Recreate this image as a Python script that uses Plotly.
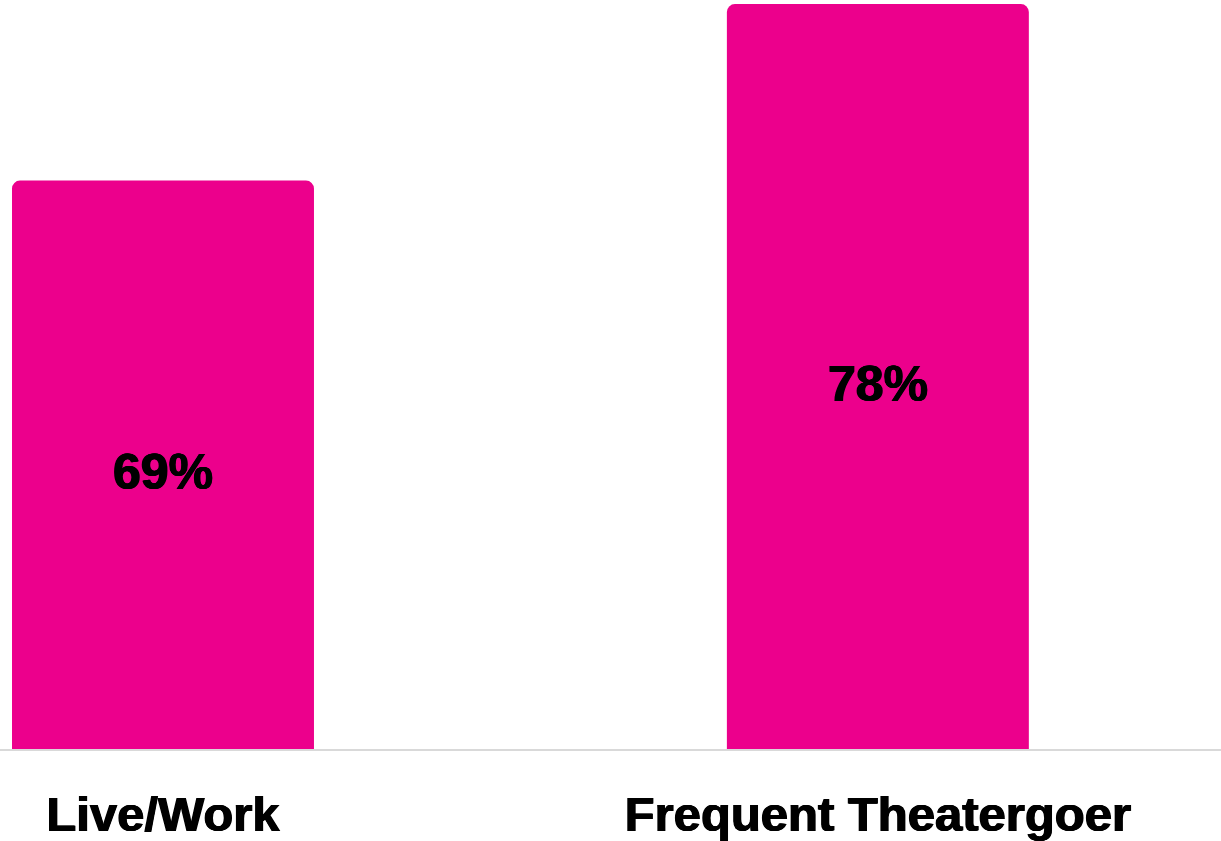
import plotly.graph_objects as go

categories = ["Live/Work", "Frequent Theatergoer"]
values = [69, 78]
value_labels = ["69%", "78%"]
axis_min = 40
axis_max = 78.21

BAR_COLOR = "#EC008C"
FONT = "Liberation Sans, Arial, sans-serif"
HEAVY = "0.7px 0 0 black, -0.7px 0 0 black, 0 0.4px 0 black"

fig = go.Figure(
    go.Bar(
        x=categories,
        y=values,
        width=0.4224,
        marker=dict(color=BAR_COLOR, line=dict(width=0)),
        hoverinfo="skip",
    )
)

# value labels centred in the visible part of each bar
for cat, v, lab in zip(categories, values, value_labels):
    fig.add_annotation(
        x=cat,
        y=(axis_min + v) / 2,
        xref="x",
        yref="y",
        text=lab,
        showarrow=False,
        yshift=-7,
        font=dict(family=FONT, size=50, color="black", weight="bold", shadow=HEAVY),
    )

fig.update_layout(
    width=1221,
    height=841,
    margin=dict(l=0, r=0, t=0, b=92, autoexpand=False),
    paper_bgcolor="white",
    plot_bgcolor="white",
    showlegend=False,
    barcornerradius=8,
    xaxis=dict(
        range=[-0.228, 1.480],
        automargin=False,
        showgrid=False,
        showline=True,
        linecolor="#d9d9d9",
        linewidth=2,
        ticks="",
        ticklabelstandoff=21,
        tickfont=dict(family=FONT, size=49, color="black", weight="bold", shadow=HEAVY),
    ),
    yaxis=dict(
        range=[axis_min, axis_max],
        automargin=False,
        showgrid=False,
        zeroline=False,
        showticklabels=False,
        showline=False,
    ),
)

fig.write_html(
    "out.html",
    config={"displayModeBar": False},
    post_script="document.body.style.margin='0';",
)
